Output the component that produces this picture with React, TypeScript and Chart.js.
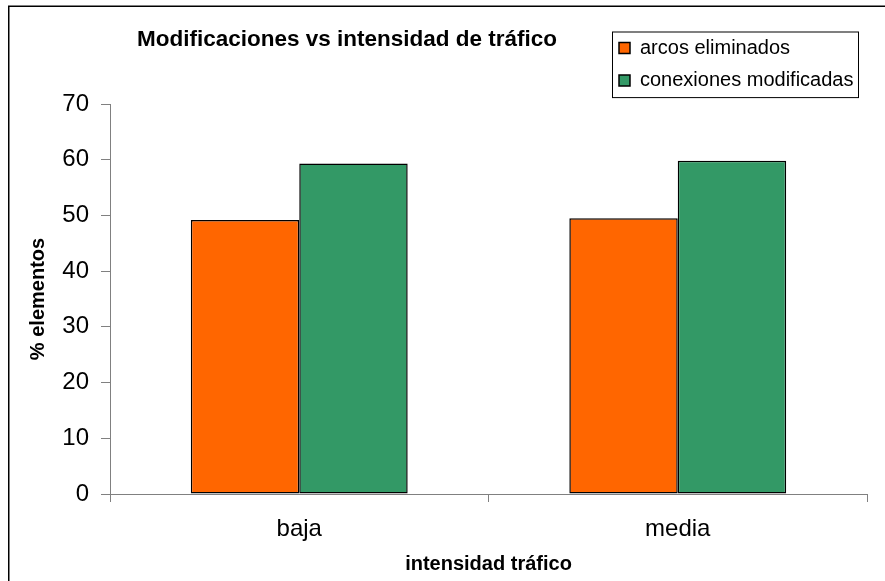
import React, { useEffect, useRef } from "react";
import { Chart, registerables } from "chart.js";

Chart.register(...registerables);

const categories = ["baja", "media"];
const arcosEliminados = [49.2, 49.5];
const conexionesModificadas = [59.3, 59.8];
const seriesNames = ["arcos eliminados", "conexiones modificadas"];
const chartTitle = "Modificaciones vs intensidad de tráfico";
const yAxisTitle = "% elementos";
const xAxisTitle = "intensidad tráfico";
const yMin = 0;
const yMax = 70;
const yStep = 10;

const FONT = "'Liberation Sans', Arial, Helvetica, sans-serif";

const framePlugin = {
  id: "frame",
  beforeDraw(chart: any) {
    const ctx = chart.ctx;
    ctx.save();
    ctx.fillStyle = "#fff";
    ctx.fillRect(0, 0, chart.width, chart.height);
    ctx.strokeStyle = "#000";
    ctx.lineWidth = 1.5;
    ctx.beginPath();
    ctx.moveTo(8.75, chart.height);
    ctx.lineTo(8.75, 6.25);
    ctx.lineTo(chart.width, 6.25);
    ctx.stroke();
    ctx.restore();
  },
};

const placePlugin = {
  id: "place",
  afterLayout(chart: any) {
    const lg = chart.legend;
    if (lg) {
      lg.left = 606.5;
      lg.top = 25.6;
      lg.width = 260;
      lg.height = 200;
      lg.right = lg.left + lg.width;
      lg.bottom = lg.top + lg.height;
    }
    const t = chart.titleBlock;
    if (t) {
      t.left = 137;
      t.right = 137 + 700;
    }
  },
  afterDraw(chart: any) {
    const lg = chart.legend;
    if (!lg) return;
    const ctx = chart.ctx;
    ctx.save();
    ctx.strokeStyle = "#000";
    ctx.lineWidth = 1;
    ctx.strokeRect(lg.left + 6, lg.top + 6.4, 246, 65.6);
    ctx.restore();
  },
};

export default function App() {
  const ref = useRef<HTMLCanvasElement | null>(null);
  useEffect(() => {
    if (!ref.current) return;
    const chart = new Chart(ref.current, {
      type: "bar",
      data: {
        labels: categories,
        datasets: [
          {
            label: seriesNames[0],
            data: arcosEliminados,
            backgroundColor: "#FF6600",
            borderColor: "#000",
            borderWidth: 1.5,
            borderSkipped: false,
          },
          {
            label: seriesNames[1],
            data: conexionesModificadas,
            backgroundColor: "#339966",
            borderColor: "#000",
            borderWidth: 1.5,
            borderSkipped: false,
          },
        ],
      },
      options: {
        responsive: false,
        animation: false,
        events: [],
        layout: { padding: { left: 10, right: 18, top: 0, bottom: 0 } },
        datasets: {
          bar: { categoryPercentage: 0.573, barPercentage: 1.0 },
        },
        scales: {
          x: {
            grid: {
              drawOnChartArea: false,
              drawTicks: true,
              tickLength: 8,
              color: "#808080",
              offset: true,
            },
            border: { color: "#808080", width: 1 },
            ticks: {
              color: "#000",
              font: { family: FONT, size: 24 },
              padding: 12.6,
            },
            title: {
              display: true,
              text: xAxisTitle,
              color: "#000",
              font: { family: FONT, size: 20, weight: "bold" },
              padding: { top: 0, bottom: 5 },
            },
            afterFit(scale: any) {
              scale.height = 87;
            },
          },
          y: {
            min: yMin,
            max: yMax,
            grid: {
              drawOnChartArea: false,
              drawTicks: true,
              tickLength: 9,
              color: "#808080",
            },
            border: { color: "#808080", width: 1 },
            ticks: {
              stepSize: yStep,
              color: "#000",
              font: { family: FONT, size: 24 },
              padding: 12,
            },
            title: {
              display: true,
              text: yAxisTitle,
              color: "#000",
              font: { family: FONT, size: 20, weight: "bold" },
              padding: { top: 16, bottom: 0 },
            },
            afterFit(scale: any) {
              scale.width = 100;
            },
          },
        },
        plugins: {
          title: {
            display: true,
            text: chartTitle,
            align: "start",
            color: "#000",
            font: { family: FONT, size: 22.5, weight: "bold" },
            padding: { top: 26.2, bottom: 50.8 },
          },
          legend: {
            display: true,
            position: "chartArea",
            align: "start",
            labels: {
              color: "#000",
              font: { family: FONT, size: 20 },
              boxWidth: 11,
              boxHeight: 11,
              padding: 12.5,
            },
          },
          tooltip: { enabled: false },
        },
      },
      plugins: [framePlugin, placePlugin],
    } as any);
    return () => chart.destroy();
  }, []);
  return (
    <div style={{ position: "absolute", left: 0, top: 0, width: 885, height: 581 }}>
      <canvas ref={ref} width={885} height={581} style={{ display: "block" }} />
    </div>
  );
}
